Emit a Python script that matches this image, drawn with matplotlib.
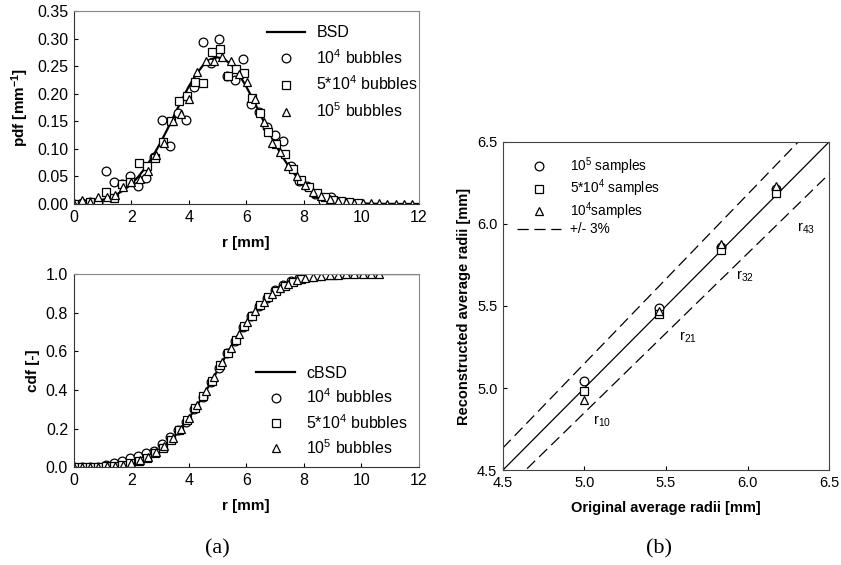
import numpy as np
import matplotlib
matplotlib.use("Agg")
import matplotlib.pyplot as plt
from matplotlib.ticker import FormatStrFormatter

plt.rcParams['font.family'] = ['Liberation Sans', 'DejaVu Sans']
plt.rcParams['mathtext.default'] = 'regular'
plt.rcParams['font.size'] = 11

# ---- fitted curves (0.25 mm grid) ----
r_line = [0.0, 0.25, 0.5, 0.75, 1.0, 1.25, 1.5, 1.75, 2.0, 2.25, 2.5, 2.75,
          3.0, 3.25, 3.5, 3.75, 4.0, 4.25, 4.5, 4.75, 5.0, 5.25, 5.5, 5.75,
          6.0, 6.25, 6.5, 6.75, 7.0, 7.25, 7.5, 7.75, 8.0, 8.25, 8.5, 8.75,
          9.0, 9.25, 9.5, 9.75, 10.0, 10.25, 10.5, 10.75, 11.0, 11.25, 11.5,
          11.75, 12.0]
bsd = [0.0010, 0.0018, 0.0030, 0.0048, 0.0076, 0.0117, 0.0175, 0.0254,
       0.0360, 0.0496, 0.0663, 0.0864, 0.1094, 0.1347, 0.1613, 0.1880,
       0.2130, 0.2347, 0.2516, 0.2623, 0.2660, 0.2623, 0.2516, 0.2347,
       0.2130, 0.1880, 0.1613, 0.1347, 0.1094, 0.0864, 0.0663, 0.0496,
       0.0360, 0.0254, 0.0175, 0.0117, 0.0076, 0.0048, 0.0030, 0.0018,
       0.0010, 0.0006, 0.0003, 0.0002, 0.0001, 0.0, 0.0, 0.0, 0.0]
cbsd = [0.0004, 0.0008, 0.0013, 0.0023, 0.0038, 0.0062, 0.0098, 0.0151,
        0.0228, 0.0334, 0.0478, 0.0668, 0.0912, 0.1217, 0.1587, 0.2023,
        0.2525, 0.3085, 0.3694, 0.4338, 0.5, 0.5662, 0.6306, 0.6915, 0.7475,
        0.7977, 0.8413, 0.8783, 0.9088, 0.9332, 0.9522, 0.9666, 0.9772,
        0.9849, 0.9902, 0.9938, 0.9962, 0.9977, 0.9987, 0.9992, 0.9996,
        0.9998, 0.9999, 1.0, 1.0, 1.0, 1.0, 1.0, 1.0]

# ---- sampled histograms, each sample size has its own bin width ----
step_1e4, step_5e4, step_1e5 = 0.28, 0.282, 0.287

pdf_1e4 = [0.000, 0.002, 0.003, 0.004, 0.060, 0.040, 0.036, 0.051, 0.033,
           0.048, 0.085, 0.152, 0.106, 0.165, 0.152, 0.213, 0.294, 0.256,
           0.299, 0.232, 0.224, 0.263, 0.181, 0.167, 0.140, 0.126, 0.115,
           0.068, 0.042, 0.033, 0.018, 0.006, 0.013, 0.004]
pdf_5e4 = [0.000, 0.000, 0.004, 0.000, 0.021, 0.010, 0.036, 0.040, 0.074,
           0.068, 0.083, 0.112, 0.150, 0.187, 0.196, 0.221, 0.220, 0.275,
           0.281, 0.233, 0.244, 0.238, 0.192, 0.165, 0.130, 0.108, 0.090,
           0.064, 0.043, 0.030, 0.020, 0.012, 0.008, 0.006, 0.003, 0.001]
pdf_1e5 = [0.000, 0.007, 0.004, 0.012, 0.012, 0.017, 0.030, 0.039, 0.045,
           0.060, 0.089, 0.110, 0.150, 0.163, 0.190, 0.240, 0.260, 0.260,
           0.266, 0.259, 0.235, 0.222, 0.190, 0.148, 0.110, 0.095, 0.068,
           0.050, 0.035, 0.022, 0.014, 0.009, 0.006, 0.003, 0.002, 0.001,
           0.001, 0.001, 0.000, 0.000, 0.000, 0.000]

cdf_1e4 = [0.000, 0.000, 0.001, 0.003, 0.012, 0.024, 0.034, 0.047, 0.060,
           0.072, 0.084, 0.120, 0.158, 0.193, 0.235, 0.300, 0.365, 0.440,
           0.515, 0.590, 0.655, 0.725, 0.785, 0.835, 0.878, 0.915, 0.945,
           0.965, 0.978, 0.990, 0.997]
cdf_5e4 = [0.000, 0.000, 0.001, 0.001, 0.005, 0.008, 0.014, 0.020, 0.034,
           0.050, 0.074, 0.102, 0.142, 0.192, 0.245, 0.308, 0.370, 0.448,
           0.527, 0.592, 0.660, 0.730, 0.785, 0.840, 0.880, 0.912, 0.940,
           0.960, 0.973, 0.983, 0.990, 0.994, 0.997, 0.999]
cdf_1e5 = [0.000, 0.001, 0.002, 0.003, 0.005, 0.009, 0.014, 0.023, 0.036,
           0.054, 0.078, 0.110, 0.150, 0.199, 0.256, 0.322, 0.393, 0.468,
           0.544, 0.619, 0.689, 0.753, 0.810, 0.857, 0.896, 0.926, 0.950,
           0.967, 0.979, 0.987, 0.992, 0.995, 0.997, 0.999, 0.999, 1.000,
           1.000, 1.000]

# ---- average radii comparison ----
orig_radii = [5.0, 5.455, 5.835, 6.174]
rad_labels = ['r$_{10}$', 'r$_{21}$', 'r$_{32}$', 'r$_{43}$']
rec_1e5 = [5.04, 5.49, 5.86, 6.21]
rec_5e4 = [4.98, 5.45, 5.84, 6.19]
rec_1e4 = [4.93, 5.47, 5.88, 6.23]
band = 0.03

mk = dict(linestyle='none', markerfacecolor='white', markeredgecolor='black',
          markeredgewidth=0.9, markersize=6.3)


def bins(step, vals):
    return np.arange(len(vals)) * step


def style_axes(ax, size):
    ax.tick_params(direction='in', length=3, width=0.8, labelsize=size,
                   top=False, right=False, pad=4)
    for s in ['left', 'bottom']:
        ax.spines[s].set_color('#333333')
    for s in ['top', 'right']:
        ax.spines[s].set_color('#888888')


fig = plt.figure(figsize=(8.41, 5.65), dpi=100)

# pdf panel
ax1 = fig.add_axes([0.0876, 0.639, 0.4104, 0.3415])
ax1.plot(r_line, bsd, color='black', lw=1.6, label='BSD')
ax1.plot(bins(step_1e4, pdf_1e4), pdf_1e4, marker='o', label='10$^4$ bubbles', **mk)
ax1.plot(bins(step_5e4, pdf_5e4), pdf_5e4, marker='s', label='5*10$^4$ bubbles',
         **dict(mk, markersize=5.8))
ax1.plot(bins(step_1e5, pdf_1e5), pdf_1e5, marker='^', label='10$^5$ bubbles', **mk)
ax1.set_xlim(0, 12)
ax1.set_ylim(0, 0.35)
ax1.set_xticks(range(0, 13, 2))
ax1.set_yticks(np.arange(0, 0.351, 0.05))
ax1.yaxis.set_major_formatter(FormatStrFormatter('%.2f'))
ax1.set_xlabel('r [mm]', fontweight='bold', fontsize=11, labelpad=8)
ax1.set_ylabel('pdf [mm$^{-1}$]', fontweight='bold', fontsize=11)
style_axes(ax1, 11.5)
ax1.legend(loc='upper right', frameon=False, handlelength=2.4,
           handletextpad=0.7, fontsize=11.5, labelspacing=0.5,
           borderaxespad=0.3, bbox_to_anchor=(1.03, 0.985))

# cdf panel
ax2 = fig.add_axes([0.0876, 0.173, 0.4104, 0.342])
ax2.plot(r_line, cbsd, color='black', lw=1.6, label='cBSD')
ax2.plot(bins(step_1e4, cdf_1e4), cdf_1e4, marker='o', label='10$^4$ bubbles', **mk)
ax2.plot(bins(step_5e4, cdf_5e4), cdf_5e4, marker='s', label='5*10$^4$ bubbles',
         **dict(mk, markersize=5.8))
ax2.plot(bins(step_1e5, cdf_1e5), cdf_1e5, marker='^', label='10$^5$ bubbles', **mk)
ax2.set_xlim(0, 12)
ax2.set_ylim(0, 1.0)
ax2.set_xticks(range(0, 13, 2))
ax2.set_yticks(np.arange(0, 1.01, 0.2))
ax2.yaxis.set_major_formatter(FormatStrFormatter('%.1f'))
ax2.set_xlabel('r [mm]', fontweight='bold', fontsize=11, labelpad=8)
ax2.set_ylabel('cdf [-]', fontweight='bold', fontsize=11)
style_axes(ax2, 11.5)
ax2.legend(loc='lower right', frameon=False, handlelength=2.4,
           handletextpad=0.7, fontsize=11.5, labelspacing=0.42,
           borderaxespad=0.3, bbox_to_anchor=(1.0, -0.005))

# average radii panel
ax3 = fig.add_axes([0.598, 0.168, 0.388, 0.581])
lim = np.array([4.5, 6.5])
ax3.plot(lim, lim, color='black', lw=0.9)
ax3.plot(lim, lim * (1 + band), color='black', lw=0.9, dashes=(9, 4.5),
         label='+/- 3%')
ax3.plot(lim, lim * (1 - band), color='black', lw=0.9, dashes=(9, 4.5))
ax3.plot(orig_radii, rec_1e5, marker='o', label='10$^5$ samples', **mk)
ax3.plot(orig_radii, rec_5e4, marker='s', label='5*10$^4$ samples',
         **dict(mk, markersize=5.8))
ax3.plot(orig_radii, rec_1e4, marker='^', label='10$^4$samples', **mk)
lab_pos = [(5.05, 4.78), (5.58, 5.29), (5.93, 5.66), (6.30, 5.95)]
for lbl, (lx, ly) in zip(rad_labels, lab_pos):
    ax3.text(lx, ly, lbl, fontsize=10.5)
ax3.set_xlim(4.5, 6.5)
ax3.set_ylim(4.5, 6.5)
ax3.set_xticks(np.arange(4.5, 6.51, 0.5))
ax3.set_yticks(np.arange(4.5, 6.51, 0.5))
ax3.xaxis.set_major_formatter(FormatStrFormatter('%.1f'))
ax3.yaxis.set_major_formatter(FormatStrFormatter('%.1f'))
ax3.set_xlabel('Original average radii [mm]', fontweight='bold',
               fontsize=10.5, labelpad=8)
ax3.set_ylabel('Reconstructed average radii [mm]', fontweight='bold',
               fontsize=10.5)
style_axes(ax3, 10.5)
for s in ax3.spines.values():
    s.set_color('#444444')
h, l = ax3.get_legend_handles_labels()
order = [1, 2, 3, 0]
ax3.legend([h[i] for i in order], [l[i] for i in order], loc='upper left',
           frameon=False, handlelength=3.3, handletextpad=0.6,
           labelspacing=0.05, borderaxespad=0.6, fontsize=9.8)

fig.text(0.258, 0.02, '(a)', family=['Liberation Serif', 'DejaVu Serif'],
         fontsize=16, ha='center')
fig.text(0.784, 0.02, '(b)', family=['Liberation Serif', 'DejaVu Serif'],
         fontsize=16, ha='center')

fig.savefig('out.png', dpi=100)
